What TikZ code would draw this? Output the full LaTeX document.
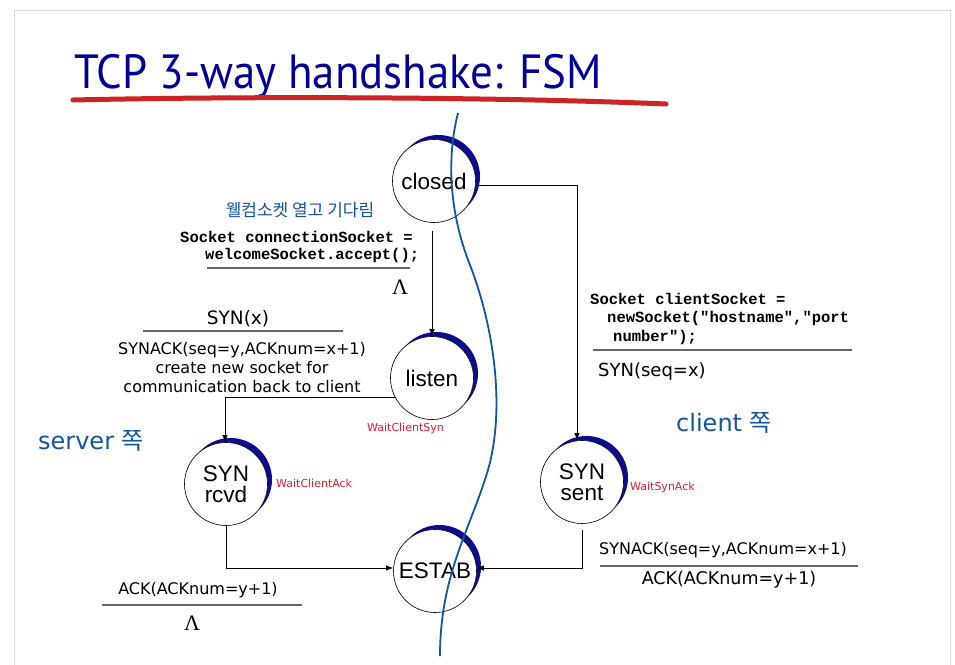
\documentclass[tikz,border=0pt]{standalone}
\usepackage{fontspec}
\setmainfont{DejaVu Sans}
\newfontfamily\circfont{Liberation Sans}
\newfontfamily\codefont{Liberation Mono}
\newfontfamily\krfont{Noto Sans CJK KR}
\newfontfamily\titlefont{PT Sans}
\newfontfamily\lamfont{Liberation Serif}
\usetikzlibrary{arrows.meta,calc}
\definecolor{crescent}{RGB}{12,12,140}
\definecolor{titleblue}{RGB}{0,0,150}
\definecolor{inkblue}{RGB}{20,85,160}
\definecolor{inkred}{RGB}{225,30,50}
\definecolor{penred}{RGB}{205,35,35}
\newcommand\fsz[1]{\fontsize{#1}{#1}\selectfont}
\tikzset{
  fsmstate/.style={circle,draw=black,line width=0.6pt,fill=white,minimum size=83pt,inner sep=0pt,
    align=center,font=\circfont\fontsize{22.5}{23}\selectfont},
  arr/.style={draw=black,line width=0.9pt,-{Latex[length=7pt,width=5.5pt]}},
  rule/.style={draw=black!60,line width=1.3pt},
  lbl/.style={inner sep=0pt,font=\fsz{16}},
  code/.style={inner sep=0pt,anchor=west,font=\codefont\bfseries\fsz{15.5}},
  note/.style={inner sep=0pt,text=inkred,font=\fsz{11}},
  hand/.style={inner sep=0pt,text=inkblue},
  lam/.style={inner sep=0pt,font=\lamfont\fsz{22}},
}
\newcommand\fsmcres[2]{\fill[crescent,even odd rule] (#1+4.5,#2-4.5) circle (41.5pt) (#1,#2) circle (41.5pt);}
\begin{document}
\begin{tikzpicture}[x=1pt,y=-1pt]
\useasboundingbox (0,0) rectangle (955,664);
\fill[white] (0,0) rectangle (955,664);
\draw[black!15,line width=1pt] (14,10) -- (950,10) -- (950,670) (14,10) -- (14,670);

% title
\node[anchor=base west,inner sep=0pt,text=titleblue,font=\titlefont\fsz{48}] (title) at (74,88) {\scalebox{0.935}[1]{TCP 3-way handshake: FSM}};
\draw[penred,line width=5pt,line cap=round] (73,100) .. controls (250,96) and (500,97) .. (666,104);

% crescents
\fsmcres{434}{181}
\fsmcres{432}{378}
\fsmcres{226}{484}
\fsmcres{582}{482}
\fsmcres{435}{571}

% states
\node[fsmstate] (closed) at (434,181) {closed};
\node[fsmstate] (listen) at (432,378) {listen};
\node[fsmstate] (rcvd) at (226,484) {SYN\\[-2pt]rcvd};
\node[fsmstate] (sent) at (582,482) {SYN\\[-2pt]sent};
\node[fsmstate] (estab) at (435,571) {ESTAB};

% transitions
\draw[arr] ([yshift=-4pt]closed.east) -| ([xshift=-5pt]sent.north);
\draw[arr,shorten <=8pt] ([xshift=-2pt]closed.south) -- ([xshift=0pt]listen.north);
\draw[arr] (listen.207) -| ([xshift=-1pt]rcvd.north);
\draw[arr] (rcvd.south) |- ([yshift=3pt]estab.west);
\draw[arr,shorten <=6pt] (sent.south) |- ([yshift=3pt]estab.east);

% closed -> listen label
\node[hand,font=\krfont\fsz{17}] (kr) at (300,210) {웰컴소켓 열고 기다림};
\node[code] (c1) at (180,237) {Socket connectionSocket =};
\node[code] (c2) at (205,255) {welcomeSocket.accept();};
\draw[rule] (207,268) -- (410,268);
\node[lam] (lam1) at (400,287) {Λ};

% listen -> rcvd label
\node[lbl,font=\fsz{18.5}] (synx) at (238,319) {SYN(x)};
\draw[rule] (143,331) -- (343,331);
\node[lbl] (sa1) at (242,350) {SYNACK(seq=y,ACKnum=x+1)};
\node[lbl] (sa2) at (242,368) {create new socket for};
\node[lbl] (sa3) at (242,387) {communication back to client};

% closed -> sent label
\node[code] (d1) at (590,299) {Socket clientSocket =};
\node[code] (d2) at (607,318) {newSocket("hostname","port};
\node[code] (d3) at (613,337) {number");};
\draw[rule] (593,350) -- (852,350);
\node[lbl,anchor=west,font=\fsz{18}] (synseq) at (598,372) {SYN(seq=x)};

% sent -> estab label
\node[lbl] (e1) at (723,550) {SYNACK(seq=y,ACKnum=x+1)};
\draw[rule] (600,566) -- (858,566);
\node[lbl,font=\fsz{17.5}] (e2) at (729,580) {ACK(ACKnum=y+1)};

% rcvd -> estab label
\node[lbl] (f1) at (198,590) {ACK(ACKnum=y+1)};
\draw[rule] (102,605) -- (302,605);
\node[lam] (lam2) at (192,623) {Λ};

% red notes
\node[note,anchor=west] (n1) at (367,428) {WaitClientSyn};
\node[note,anchor=west] (n2) at (276,483) {WaitClientAck};
\node[note,anchor=west] (n3) at (630,487) {WaitSynAck};

% hand notes
\node[hand,font=\fsz{24}] (srv) at (91,441) {server {\krfont 쪽}};
\node[hand,font=\fsz{24}] (cli) at (724,423) {client {\krfont 쪽}};

% divider curve
\draw[inkblue,line width=1.8pt] (458,113) .. controls (446,160) and (450,215) .. (470,265)
  .. controls (495,330) and (505,410) .. (488,470)
  .. controls (470,530) and (440,575) .. (440,656);
\end{tikzpicture}
\end{document}
